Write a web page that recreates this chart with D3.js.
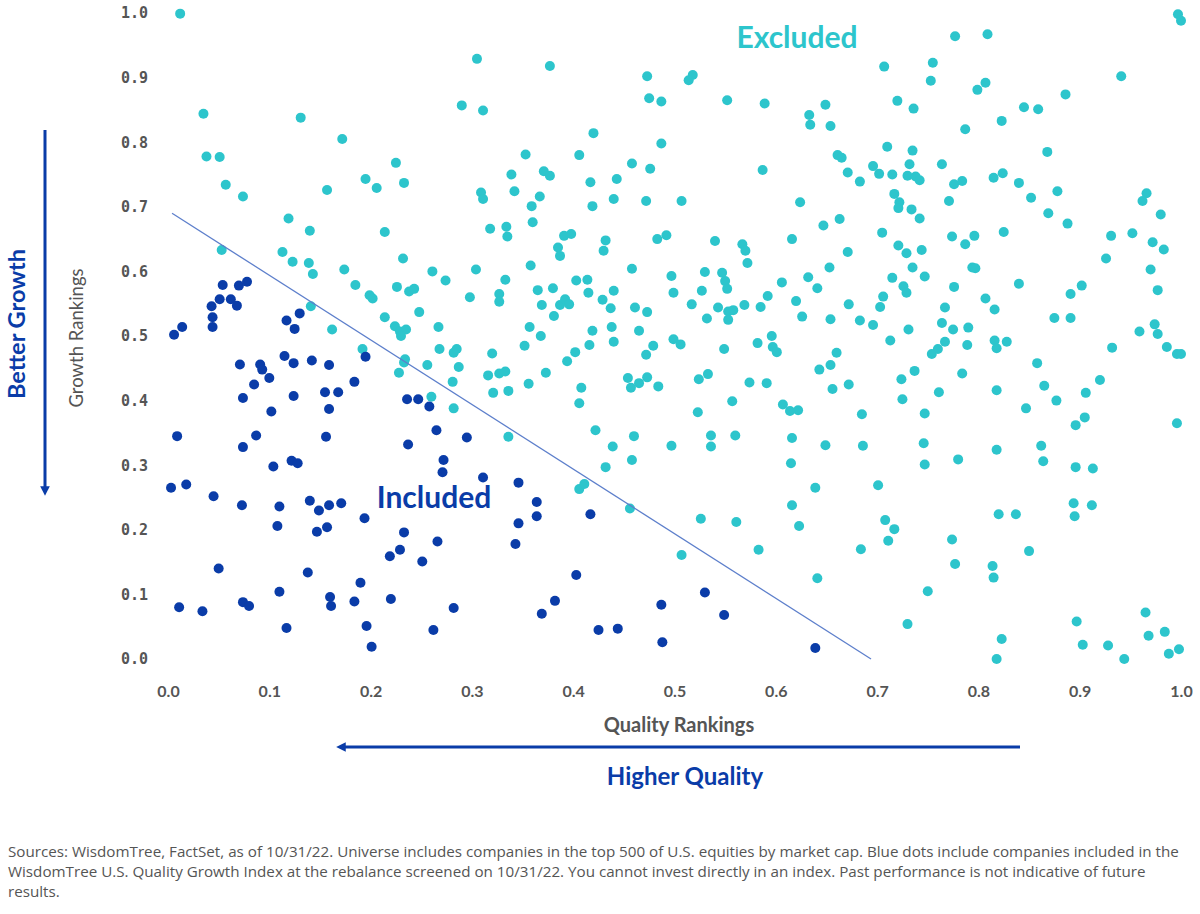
<!DOCTYPE html>
<html>
<head>
<meta charset="utf-8">
<script src="https://cdn.jsdelivr.net/npm/d3@7"></script>
<style>
  body { margin: 0; background: #fff; }
</style>
</head>
<body>
<div id="chart"></div>
<script>
// [quality ranking, growth ranking]
const included = [
  [0.054,0.579],[0.070,0.578],[0.078,0.584],[0.051,0.557],[0.062,0.557],[0.068,0.547],[0.043,0.546],[0.044,0.529],
  [0.044,0.514],[0.014,0.514],[0.006,0.502],[0.117,0.524],[0.130,0.535],[0.125,0.511],[0.195,0.468],[0.071,0.456],
  [0.091,0.456],[0.093,0.448],[0.100,0.435],[0.115,0.469],[0.124,0.458],[0.142,0.462],[0.159,0.455],[0.085,0.425],
  [0.184,0.429],[0.074,0.404],[0.124,0.407],[0.155,0.413],[0.168,0.413],[0.159,0.387],[0.102,0.383],[0.236,0.402],
  [0.247,0.402],[0.258,0.391],[0.265,0.354],[0.295,0.343],[0.009,0.345],[0.087,0.346],[0.156,0.344],[0.074,0.328],
  [0.237,0.332],[0.104,0.298],[0.122,0.307],[0.128,0.303],[0.272,0.308],[0.271,0.289],[0.311,0.281],[0.003,0.265],
  [0.018,0.270],[0.045,0.252],[0.073,0.238],[0.110,0.236],[0.140,0.245],[0.149,0.230],[0.159,0.238],[0.171,0.241],
  [0.194,0.218],[0.108,0.206],[0.147,0.197],[0.157,0.204],[0.233,0.196],[0.266,0.182],[0.229,0.169],[0.219,0.159],
  [0.251,0.151],[0.050,0.140],[0.138,0.134],[0.190,0.118],[0.110,0.104],[0.160,0.096],[0.161,0.082],[0.184,0.089],
  [0.220,0.093],[0.011,0.080],[0.034,0.074],[0.074,0.088],[0.080,0.082],[0.282,0.079],[0.117,0.048],[0.196,0.051],
  [0.262,0.045],[0.201,0.019],[0.346,0.273],[0.364,0.243],[0.364,0.221],[0.346,0.210],[0.343,0.178],[0.417,0.224],
  [0.403,0.130],[0.382,0.090],[0.369,0.070],[0.425,0.045],[0.444,0.047],[0.487,0.084],[0.530,0.103],[0.549,0.068],
  [0.488,0.026],[0.639,0.017]
];

const excluded = [
  [0.012,0.999],[0.305,0.929],[0.035,0.844],[0.131,0.838],[0.290,0.857],[0.311,0.849],[0.172,0.805],[0.038,0.778],
  [0.051,0.777],[0.225,0.768],[0.057,0.734],[0.074,0.716],[0.195,0.743],[0.206,0.729],[0.233,0.737],[0.157,0.726],
  [0.309,0.722],[0.311,0.712],[0.119,0.682],
  [0.377,0.918],[0.473,0.902],[0.518,0.904],[0.514,0.896],[0.475,0.868],[0.487,0.863],[0.552,0.865],[0.589,0.860],
  [0.649,0.858],[0.633,0.842],[0.634,0.827],[0.654,0.825],[0.420,0.814],[0.487,0.798],[0.353,0.781],[0.406,0.780],
  [0.661,0.780],[0.665,0.776],[0.339,0.750],[0.342,0.724],[0.371,0.755],[0.377,0.748],[0.458,0.767],[0.476,0.759],
  [0.417,0.738],[0.443,0.743],[0.367,0.716],[0.359,0.701],[0.419,0.701],[0.440,0.712],[0.472,0.709],[0.507,0.709],
  [0.587,0.757],[0.624,0.707],[0.671,0.753],[0.360,0.676],[0.334,0.669],[0.647,0.671],[0.663,0.681],
  [0.997,0.998],[1.000,0.988],[0.777,0.964],[0.809,0.967],[0.707,0.917],[0.755,0.923],[0.753,0.895],[0.807,0.892],
  [0.799,0.881],[0.941,0.902],[0.886,0.874],[0.720,0.864],[0.736,0.852],[0.845,0.854],[0.859,0.851],[0.823,0.833],
  [0.787,0.820],[0.710,0.793],[0.735,0.787],[0.868,0.785],[0.732,0.766],[0.696,0.763],[0.702,0.751],[0.683,0.739],
  [0.715,0.750],[0.730,0.748],[0.738,0.747],[0.742,0.741],[0.764,0.766],[0.776,0.735],[0.784,0.740],[0.815,0.745],
  [0.824,0.752],[0.840,0.737],[0.852,0.714],[0.878,0.724],[0.869,0.690],[0.717,0.720],[0.722,0.707],[0.721,0.698],
  [0.734,0.696],[0.742,0.682],[0.771,0.709],[0.888,0.674],[0.966,0.721],[0.962,0.709],[0.980,0.688],
  [0.140,0.663],[0.214,0.661],[0.318,0.666],[0.335,0.654],[0.053,0.633],[0.113,0.630],[0.123,0.615],[0.139,0.613],
  [0.143,0.596],[0.174,0.603],[0.232,0.620],[0.261,0.600],[0.274,0.586],[0.304,0.603],[0.333,0.587],[0.185,0.579],
  [0.226,0.576],[0.238,0.569],[0.243,0.573],[0.199,0.563],[0.202,0.558],[0.298,0.560],[0.327,0.565],[0.327,0.553],
  [0.141,0.546],[0.248,0.537],[0.214,0.529],[0.162,0.510],[0.224,0.515],[0.229,0.507],[0.235,0.510],[0.230,0.500],
  [0.267,0.514],[0.192,0.480],[0.268,0.480],[0.282,0.474],[0.285,0.480],[0.320,0.473],[0.234,0.464],[0.233,0.459],
  [0.256,0.455],[0.287,0.452],[0.228,0.443],[0.316,0.439],[0.327,0.442],[0.333,0.445],[0.281,0.429],[0.321,0.412],
  [0.336,0.415],[0.260,0.406],[0.282,0.388],[0.336,0.344],
  [0.391,0.655],[0.398,0.658],[0.385,0.637],[0.387,0.624],[0.432,0.648],[0.430,0.632],[0.483,0.650],[0.492,0.656],
  [0.540,0.647],[0.567,0.642],[0.570,0.632],[0.572,0.613],[0.616,0.650],[0.671,0.630],[0.358,0.609],[0.458,0.604],
  [0.497,0.593],[0.530,0.599],[0.547,0.598],[0.550,0.585],[0.552,0.573],[0.606,0.583],[0.632,0.591],[0.641,0.574],
  [0.653,0.606],[0.365,0.571],[0.380,0.574],[0.403,0.586],[0.414,0.587],[0.415,0.567],[0.440,0.570],[0.369,0.548],
  [0.387,0.548],[0.392,0.557],[0.396,0.549],[0.381,0.531],[0.429,0.556],[0.437,0.543],[0.461,0.544],[0.473,0.537],
  [0.499,0.567],[0.527,0.570],[0.517,0.549],[0.532,0.527],[0.543,0.544],[0.553,0.538],[0.558,0.540],[0.553,0.525],
  [0.569,0.548],[0.585,0.545],[0.592,0.562],[0.620,0.554],[0.626,0.530],[0.654,0.526],[0.672,0.549],[0.357,0.514],
  [0.368,0.500],[0.352,0.485],[0.419,0.508],[0.416,0.486],[0.438,0.514],[0.440,0.491],[0.465,0.508],[0.479,0.485],
  [0.472,0.471],[0.499,0.495],[0.506,0.487],[0.549,0.480],[0.582,0.489],[0.596,0.500],[0.597,0.483],[0.601,0.475],
  [0.402,0.475],[0.394,0.461],[0.373,0.443],[0.356,0.426],[0.408,0.420],[0.406,0.396],[0.454,0.435],[0.457,0.420],
  [0.465,0.427],[0.473,0.436],[0.484,0.422],[0.524,0.433],[0.533,0.441],[0.574,0.428],[0.591,0.427],[0.660,0.474],
  [0.654,0.455],[0.643,0.448],[0.656,0.418],[0.672,0.425],[0.557,0.399],[0.607,0.394],[0.614,0.384],[0.622,0.385],
  [0.523,0.382],[0.422,0.354],[0.460,0.345],[0.536,0.346],[0.536,0.329],[0.560,0.346],[0.616,0.342],[0.649,0.331],
  [0.439,0.329],[0.497,0.330],
  [0.705,0.660],[0.774,0.654],[0.787,0.642],[0.796,0.655],[0.825,0.661],[0.931,0.655],[0.952,0.659],[0.972,0.645],
  [0.983,0.634],[0.721,0.640],[0.729,0.628],[0.744,0.633],[0.926,0.620],[0.735,0.606],[0.747,0.592],[0.794,0.606],
  [0.797,0.605],[0.715,0.590],[0.726,0.577],[0.729,0.567],[0.776,0.576],[0.840,0.581],[0.970,0.603],[0.977,0.571],
  [0.891,0.565],[0.902,0.578],[0.706,0.561],[0.703,0.545],[0.807,0.558],[0.816,0.541],[0.767,0.544],[0.683,0.524],
  [0.696,0.517],[0.731,0.510],[0.764,0.520],[0.775,0.510],[0.790,0.513],[0.875,0.528],[0.891,0.528],[0.974,0.518],
  [0.977,0.503],[0.959,0.507],[0.713,0.493],[0.767,0.491],[0.760,0.480],[0.754,0.472],[0.789,0.486],[0.816,0.493],
  [0.818,0.481],[0.828,0.491],[0.932,0.482],[0.986,0.483],[0.996,0.472],[1.000,0.472],[0.858,0.458],[0.737,0.446],
  [0.724,0.433],[0.784,0.442],[0.761,0.413],[0.818,0.416],[0.865,0.423],[0.920,0.432],[0.906,0.412],[0.877,0.400],
  [0.725,0.402],[0.847,0.388],[0.685,0.379],[0.747,0.380],[0.905,0.374],[0.896,0.362],[0.996,0.365],[0.686,0.330],
  [0.746,0.334],[0.862,0.330],[0.818,0.324],
  [0.432,0.297],[0.458,0.308],[0.615,0.303],[0.406,0.263],[0.411,0.271],[0.639,0.265],[0.456,0.233],[0.616,0.238],
  [0.526,0.217],[0.561,0.212],[0.623,0.206],[0.507,0.161],[0.583,0.169],[0.641,0.125],
  [0.747,0.301],[0.780,0.309],[0.864,0.306],[0.896,0.297],[0.913,0.295],[0.701,0.269],[0.894,0.241],[0.912,0.238],
  [0.895,0.221],[0.820,0.224],[0.837,0.224],[0.708,0.215],[0.717,0.201],[0.711,0.183],[0.684,0.170],[0.774,0.185],
  [0.850,0.167],[0.777,0.147],[0.814,0.144],[0.815,0.126],[0.750,0.105],[0.730,0.054],[0.823,0.031],[0.818,0.000],
  [0.897,0.058],[0.965,0.072],[0.968,0.036],[0.984,0.042],[0.903,0.022],[0.928,0.021],[0.944,0.000],[0.988,0.008],
  [0.998,0.015]
];

// cut-off line between the two groups
const cutoffLine = [[0.004, 0.69], [0.694, 0]];
const tickValues = [0, 0.1, 0.2, 0.3, 0.4, 0.5, 0.6, 0.7, 0.8, 0.9, 1.0];

const footnote = [
  "Sources: WisdomTree, FactSet, as of 10/31/22. Universe includes companies in the top 500 of U.S. equities by market cap. Blue dots include companies included in the",
  "WisdomTree U.S. Quality Growth Index at the rebalance screened on 10/31/22. You cannot invest directly in an index. Past performance is not indicative of future",
  "results."
];

const width = 1200, height = 914;
const teal = "#2dc5cc", blue = "#0a3ca8", grey = "#555";

const svg = d3.select("#chart")
  .append("svg")
  .attr("width", width)
  .attr("height", height)
  .style("background", "white");

const xScale = d3.scaleLinear().domain([0, 1]).range([168, 1181]);
const yScale = d3.scaleLinear().domain([0, 1]).range([659, 13]);

// arrow head
svg.append("defs").append("marker")
  .attr("id", "arrow")
  .attr("viewBox", "0 0 10 10")
  .attr("refX", 6)
  .attr("refY", 5)
  .attr("markerWidth", 3.2)
  .attr("markerHeight", 3.2)
  .attr("orient", "auto")
  .append("path")
  .attr("d", "M0,0 L10,5 L0,10 z")
  .attr("fill", blue);

// x axis
const xaxis = svg.append("g")
  .attr("transform", "translate(0,680)")
  .call(d3.axisBottom(xScale).tickValues(tickValues).tickSize(0).tickPadding(6).tickFormat(d3.format(".1f")));
xaxis.select(".domain").remove();
xaxis.selectAll("text")
  .style("font-family", "Lato")
  .style("font-weight", "700")
  .style("font-size", "16px")
  .attr("fill", grey);

// y axis
const yaxis = svg.append("g")
  .attr("transform", "translate(148,0)")
  .call(d3.axisLeft(yScale).tickValues(tickValues).tickSize(0).tickPadding(0).tickFormat(d3.format(".1f")));
yaxis.select(".domain").remove();
yaxis.selectAll("text")
  .style("font-family", "DejaVu Sans Mono")
  .style("font-weight", "700")
  .style("font-size", "15px")
  .attr("fill", grey);

// dots
svg.append("g").selectAll("circle")
  .data(excluded)
  .join("circle")
  .attr("cx", d => xScale(d[0]))
  .attr("cy", d => yScale(d[1]))
  .attr("r", 5)
  .attr("fill", teal);

svg.append("g").selectAll("circle")
  .data(included)
  .join("circle")
  .attr("cx", d => xScale(d[0]))
  .attr("cy", d => yScale(d[1]))
  .attr("r", 5)
  .attr("fill", blue);

// cut-off line
svg.append("path")
  .datum(cutoffLine)
  .attr("d", d3.line().x(d => xScale(d[0])).y(d => yScale(d[1])))
  .attr("stroke", "#5d7fcb")
  .attr("stroke-width", 1.3)
  .attr("fill", "none");

// group labels
svg.append("text")
  .text("Excluded")
  .attr("x", 797)
  .attr("y", 48)
  .attr("text-anchor", "middle")
  .style("font-family", "Lato")
  .style("font-weight", "700")
  .style("font-size", "30px")
  .attr("fill", teal);

svg.append("text")
  .text("Included")
  .attr("x", 434)
  .attr("y", 508)
  .attr("text-anchor", "middle")
  .style("font-family", "Lato")
  .style("font-weight", "700")
  .style("font-size", "30px")
  .attr("fill", blue);

// axis titles
svg.append("text")
  .text("Quality Rankings")
  .attr("x", 679)
  .attr("y", 732)
  .attr("text-anchor", "middle")
  .style("font-family", "Lato")
  .style("font-weight", "700")
  .style("font-size", "20px")
  .attr("fill", grey);

svg.append("text")
  .text("Growth Rankings")
  .attr("transform", "translate(83,338) rotate(-90)")
  .attr("text-anchor", "middle")
  .style("font-family", "Lato")
  .style("font-size", "18.5px")
  .attr("fill", grey);

// direction arrows
svg.append("line")
  .attr("x1", 1020).attr("y1", 747)
  .attr("x2", 340).attr("y2", 747)
  .attr("stroke", blue)
  .attr("stroke-width", 3)
  .attr("marker-end", "url(#arrow)");

svg.append("text")
  .text("Higher Quality")
  .attr("x", 685)
  .attr("y", 785)
  .attr("text-anchor", "middle")
  .style("font-family", "Lato")
  .style("font-weight", "700")
  .style("font-size", "24px")
  .attr("fill", blue);

svg.append("line")
  .attr("x1", 45).attr("y1", 130)
  .attr("x2", 45).attr("y2", 492)
  .attr("stroke", blue)
  .attr("stroke-width", 3)
  .attr("marker-end", "url(#arrow)");

svg.append("text")
  .text("Better Growth")
  .attr("transform", "translate(25,324) rotate(-90)")
  .attr("text-anchor", "middle")
  .style("font-family", "Lato")
  .style("font-weight", "700")
  .style("font-size", "23.5px")
  .attr("fill", blue);

// footnote
svg.append("g").selectAll("text")
  .data(footnote)
  .join("text")
  .text(d => d)
  .attr("x", 8)
  .attr("y", (d, i) => 857 + i * 20)
  .style("font-family", "Open Sans")
  .style("font-size", "15.2px")
  .attr("fill", grey);
</script>
</body>
</html>
